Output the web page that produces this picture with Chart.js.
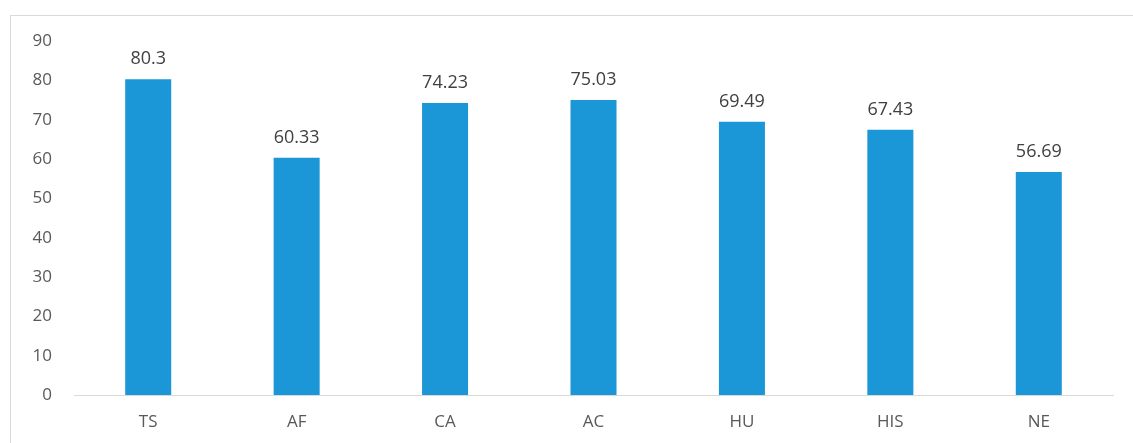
<!DOCTYPE html>
<html>
<head>
<meta charset="utf-8">
<script src="https://cdn.jsdelivr.net/npm/chart.js@4.4.0/dist/chart.umd.min.js"></script>
<style>
  html, body { margin: 0; padding: 0; background: #fff; overflow: hidden; }
  #wrap { position: relative; width: 1133px; height: 443px; }
  #frame { position: absolute; left: 10px; top: 15px; width: 1200px; height: 500px; border: 1px solid #d9d9d9; }
  #myChart { position: absolute; left: 0; top: 0; }
</style>
</head>
<body>
<div id="wrap">
  <div id="frame"></div>
  <canvas id="myChart" width="1133" height="443"></canvas>
</div>
<script>
var labels = ["TS", "AF", "CA", "AC", "HU", "HIS", "NE"]
var values = [80.3, 60.33, 74.23, 75.03, 69.49, 67.43, 56.69]
var yTicks = [0, 10, 20, 30, 40, 50, 60, 70, 80, 90]

var chartField = document.querySelector("#myChart").getContext("2d")

// writes each bar's value just above it
const valueLabels = {
    id: "valueLabels",
    afterDatasetsDraw(chart) {
        var ctx = chart.ctx
        var meta = chart.getDatasetMeta(0)
        ctx.save()
        ctx.font = "18px 'Open Sans'"
        ctx.fillStyle = "#404040"
        ctx.textAlign = "center"
        ctx.textBaseline = "bottom"
        meta.data.forEach((bar, i) => {
            ctx.fillText(String(values[i]), bar.x, bar.y - 11)
        })
        ctx.restore()
    }
}

var myChart = new Chart(chartField, {
    type: "bar",
    data: {
        labels: labels,
        datasets: [{
            data: values,
            backgroundColor: "#1b96d6",
            categoryPercentage: 1,
            barPercentage: 0.31
        }]
    },
    options: {
        responsive: false,
        animation: false,
        layout: { padding: { top: 41, right: 20, left: 0, bottom: 0 } },
        plugins: {
            legend: { display: false },
            tooltip: { enabled: false }
        },
        scales: {
            x: {
                grid: { display: false, drawTicks: false },
                border: { display: true, color: "#d9d9d9", width: 1 },
                ticks: { color: "#595959", font: { family: "Open Sans", size: 17 }, padding: 17 },
                afterFit: (s) => { s.height = 48 }
            },
            y: {
                min: 0,
                max: 90,
                grid: { display: false, drawTicks: false },
                border: { display: false },
                afterBuildTicks: (s) => { s.ticks = yTicks.map(v => ({ value: v })) },
                ticks: { color: "#595959", font: { family: "Open Sans", size: 17 }, padding: 22 },
                afterFit: (s) => { s.width = 74 }
            }
        }
    },
    plugins: [valueLabels]
});
</script>
</body>
</html>
